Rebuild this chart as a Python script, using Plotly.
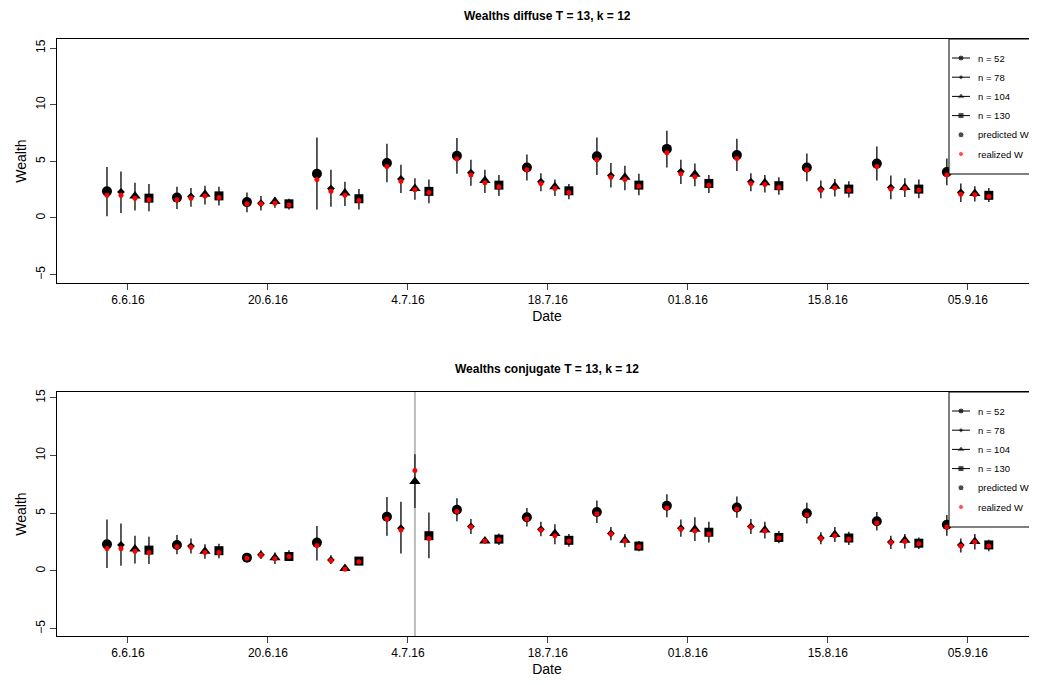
import plotly.graph_objects as go

groups = 13
tick_labels = ["6.6.16", "20.6.16", "4.7.16", "18.7.16", "01.8.16", "15.8.16", "05.9.16"]
series_names = ["n = 52", "n = 78", "n = 104", "n = 130"]

# diffuse: per series, 13 groups
d_pred = [
 [2.35,1.8,1.4,3.9,4.85,5.5,4.45,5.45,6.1,5.55,4.45,4.8,4.05],
 [2.3,1.9,1.3,2.6,3.45,4.0,3.2,3.75,4.1,3.2,2.55,2.7,2.25],
 [1.95,2.1,1.45,2.2,2.6,3.3,2.75,3.6,3.85,3.1,2.8,2.7,2.15],
 [1.75,1.95,1.25,1.7,2.35,2.9,2.4,2.9,3.05,2.85,2.55,2.55,2.0]]
d_real = [
 [2.0,1.6,1.25,3.4,4.55,5.2,4.25,5.15,5.75,5.25,4.25,4.55,3.8],
 [2.0,1.75,1.25,2.35,3.25,3.8,3.05,3.6,3.9,3.05,2.45,2.55,2.1],
 [1.75,1.95,1.3,2.0,2.5,3.1,2.6,3.4,3.65,2.95,2.65,2.6,2.05],
 [1.6,1.8,1.15,1.55,2.25,2.75,2.25,2.8,2.9,2.7,2.45,2.45,1.9]]
d_low = [
 [0.15,0.8,0.5,0.75,3.15,3.9,3.3,3.8,4.45,4.15,3.25,3.3,2.9],
 [0.45,1.0,0.65,1.0,2.2,2.85,2.35,2.7,3.0,2.35,1.75,1.65,1.4],
 [0.65,1.2,0.9,1.05,1.6,2.2,1.95,2.45,2.8,2.25,1.9,1.85,1.45],
 [0.6,1.1,0.75,0.75,1.3,1.95,1.65,2.0,2.2,2.05,1.8,1.75,1.4]]
d_high = [
 [4.5,2.75,2.25,7.1,6.55,7.05,5.6,7.1,7.7,7.0,5.7,6.3,5.25],
 [4.1,2.65,1.95,4.25,4.7,5.15,3.95,4.85,5.15,3.95,3.3,3.75,3.05],
 [3.1,2.85,1.85,3.2,3.5,4.25,3.4,4.6,4.8,3.8,3.45,3.5,2.8],
 [3.0,2.75,1.7,2.55,3.4,3.8,3.0,3.9,3.8,3.6,3.25,3.4,2.65]]

# conjugate
c_pred = [
 [2.3,2.25,1.15,2.45,4.7,5.3,4.65,5.1,5.65,5.5,5.0,4.3,4.0],
 [2.25,2.15,1.4,0.95,3.7,3.85,3.6,3.25,3.7,3.85,2.85,2.5,2.25],
 [1.9,1.7,1.15,0.2,7.75,2.6,3.25,2.65,3.6,3.55,3.15,2.65,2.55],
 [1.8,1.75,1.25,0.85,3.05,2.75,2.65,2.15,3.35,2.9,2.85,2.4,2.25]]
c_real = [
 [1.95,2.1,1.1,2.2,4.5,5.15,4.5,4.95,5.45,5.35,4.85,4.15,3.8],
 [1.95,2.05,1.35,0.9,3.55,3.8,3.55,3.2,3.6,3.8,2.8,2.45,2.15],
 [1.7,1.6,1.05,0.15,8.7,2.6,3.05,2.6,3.45,3.45,3.05,2.55,2.5],
 [1.6,1.6,1.25,0.8,2.8,2.7,2.6,2.1,3.2,2.85,2.75,2.35,2.15]]
c_low = [
 [0.25,1.45,0.8,0.9,3.05,4.3,3.85,4.15,4.65,4.6,4.1,3.5,3.05],
 [0.45,1.5,1.05,0.6,1.5,3.2,3.0,2.65,2.95,3.2,2.3,1.9,1.6],
 [0.65,1.05,0.6,0.05,5.45,2.35,2.3,2.05,2.6,2.8,2.5,1.95,1.85],
 [0.6,1.1,0.85,0.6,1.1,2.25,2.1,1.7,2.45,2.4,2.25,1.9,1.7]]
c_high = [
 [4.45,3.1,1.55,3.9,6.4,6.3,5.45,6.1,6.65,6.45,5.9,5.1,4.85],
 [4.1,2.8,1.8,1.35,6.0,4.5,4.25,3.8,4.45,4.5,3.35,3.05,2.8],
 [3.05,2.3,1.6,0.35,10.1,2.8,4.05,3.2,4.65,4.25,3.8,3.2,3.2],
 [2.95,2.35,1.8,1.1,5.05,3.25,3.2,2.6,4.25,3.45,3.4,2.9,2.7]]

legend_labels = series_names + ["predicted W", "realized W"]

outlier_group, outlier_series = 4, 2
outlier_range = [-7, 17]

symbols = ["circle", "diamond", "triangle-up", "square"]
sizes = [10, 6, 10, 9]

OFF = 8
W, H = 1037 - OFF, 685 - OFF
L, R = 57 - OFF, 0

fig = go.Figure()

def add_panel(pred, real, low, high, row, outlier=False):
    xa = "x" if row == 1 else "x2"
    ya = "y" if row == 1 else "y2"
    if outlier:
        xo = outlier_group * 5 + outlier_series
        fig.add_trace(go.Scatter(x=[xo, xo], y=outlier_range, mode="lines",
                                 line=dict(color="#bbbbbb", width=2), showlegend=False,
                                 xaxis=xa, yaxis=ya, hoverinfo="skip"))
    for s in range(4):
        xs = [g * 5 + s for g in range(groups)]
        fig.add_trace(go.Scatter(
            x=xs, y=pred[s], mode="markers",
            marker=dict(symbol=symbols[s], size=sizes[s], color="black"),
            error_y=dict(type="data", symmetric=False,
                         array=[h - p for h, p in zip(high[s], pred[s])],
                         arrayminus=[p - l for p, l in zip(pred[s], low[s])],
                         width=0, thickness=1.6, color="#333333"),
            showlegend=False, xaxis=xa, yaxis=ya))
        fig.add_trace(go.Scatter(x=xs, y=real[s], mode="markers",
                                 marker=dict(size=5, color="red"),
                                 showlegend=False, xaxis=xa, yaxis=ya))

add_panel(d_pred, d_real, d_low, d_high, 1)
add_panel(c_pred, c_real, c_low, c_high, 2, outlier=True)

# manual legends on a full-page pixel-space axis (reference pixel coordinates)
shapes, annotations = [], []
leg_syms = symbols + ["circle", "circle"]
leg_sizes = [6, 4, 7, 6, 6, 5]
leg_cols = ["black"] * 5 + ["red"]
for top in (39, 392):
    bottom = top + 135
    shapes.append(dict(type="rect", xref="x3", yref="y3", x0=949, x1=1045, y0=top, y1=bottom,
                       line=dict(color="black", width=1), fillcolor="white", layer="below"))
    for k, lab in enumerate(legend_labels):
        yy = top + 19 + 19.2 * k
        if k < 4:
            shapes.append(dict(type="line", xref="x3", yref="y3", x0=952, x1=970, y0=yy, y1=yy,
                               line=dict(color="black", width=1), layer="above"))
        annotations.append(dict(text=lab, xref="x3", yref="y3", x=976, y=yy, xanchor="left",
                                yanchor="middle", showarrow=False, font=dict(size=9.5)))
    fig.add_trace(go.Scatter(
        x=[961] * 6, y=[top + 19 + 19.2 * k for k in range(6)], mode="markers",
        marker=dict(symbol=leg_syms, size=leg_sizes, color=leg_cols),
        xaxis="x3", yaxis="y3", showlegend=False, hoverinfo="skip", cliponaxis=False))

def py(p):
    return 1 - (p - OFF) / H

tickvals = [1.5 + 10 * k for k in range(len(tick_labels))]
xcommon = dict(range=[-3.57, 66.3 + 2 / 14], tickvals=tickvals, ticktext=tick_labels, showline=True,
               linecolor="black", mirror=True, ticks="outside", ticklen=6, zeroline=False,
               showgrid=False, automargin=False, title=dict(text="Date", standoff=4))
ycommon = dict(tickvals=[-5, 0, 5, 10, 15], tickangle=-90, showline=True, linecolor="black",
               ticks="outside", ticklen=6, zeroline=False, showgrid=False, automargin=False,
               title=dict(text="Wealth", standoff=4))

annotations += [
    dict(text="<b>Wealths diffuse T = 13, k = 12</b>", x=0.5, y=py(16), xref="paper",
         yref="paper", yanchor="middle", showarrow=False, font=dict(size=12)),
    dict(text="<b>Wealths conjugate T = 13, k = 12</b>", x=0.5, y=py(369), xref="paper",
         yref="paper", yanchor="middle", showarrow=False, font=dict(size=12)),
]

fig.update_layout(
    width=W, height=H, plot_bgcolor="rgba(0,0,0,0)", paper_bgcolor="white", showlegend=False,
    margin=dict(l=L, r=R, t=0, b=0),
    font=dict(family="Liberation Sans, Arial", size=12, color="black"),
    xaxis=dict(domain=[0, 1], anchor="y", **xcommon),
    yaxis=dict(domain=[py(283), py(39)], anchor="x", range=[-5.74, 15.8], **ycommon),
    xaxis2=dict(domain=[0, 1], anchor="y2", **xcommon),
    yaxis2=dict(domain=[py(636), py(392)], anchor="x2", range=[-5.64, 15.5], **ycommon),
    xaxis3=dict(domain=[0, 1], range=[57, 1037], visible=False, anchor="y3", fixedrange=True),
    yaxis3=dict(domain=[0, 1], range=[685, 8], visible=False, anchor="x3", fixedrange=True),
    shapes=shapes, annotations=annotations,
)

fig.write_html("out.html")
